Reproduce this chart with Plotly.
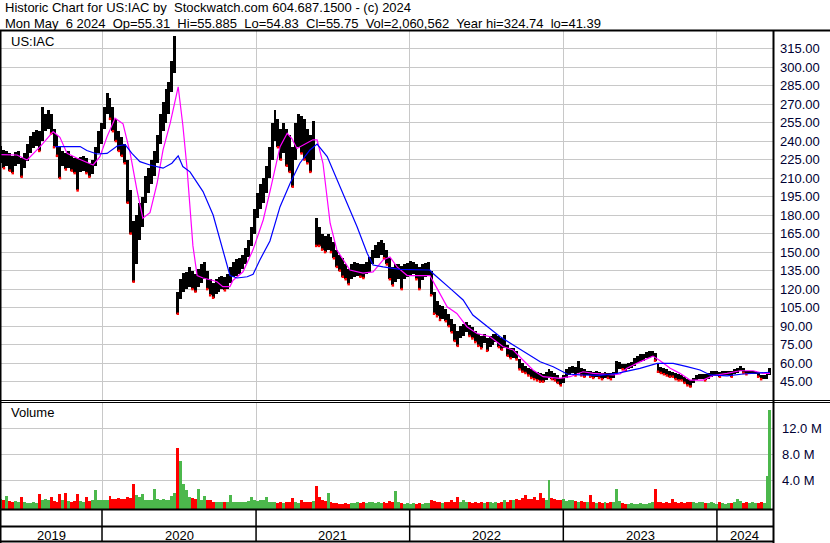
import pandas as pd
import plotly.graph_objects as go

W, H = 830, 543

# weekly price range (US$), one entry per week starting Monday 2019-05-06
first_week = "2019-05-06"
week_lo = [222, 218, 220, 216, 214, 220, 221, 211, 218, 224,
           230, 234, 236, 232, 240, 248, 250, 246, 235, 228,
           210, 220, 217, 218, 216, 214, 200, 215, 216, 214,
           211, 213, 220, 230, 238, 250, 262, 258, 248, 240,
           232, 228, 222, 190, 165, 126, 140, 160, 170, 190,
           198, 205, 212, 222, 238, 248, 255, 262, 280, 295,
           100, 112, 118, 120, 122, 120, 118, 122, 125, 128,
           120, 115, 113, 116, 118, 120, 119, 120, 125, 130,
           131, 132, 136, 140, 146, 155, 165, 178, 185, 190,
           198, 210, 225, 240, 235, 225, 230, 220, 215, 203,
           225, 235, 230, 225, 222, 215, 225, 155, 155, 152,
           150, 152, 150, 145, 138, 135, 130, 128, 124, 128,
           130, 131, 130, 129, 132, 134, 140, 145, 145, 148,
           145, 140, 128, 123, 126, 128, 120, 128, 130, 131,
           132, 128, 120, 127, 130, 131, 115, 100, 98, 95,
           96, 94, 90, 85, 78, 74, 80, 82, 85, 82,
           80, 77, 74, 72, 76, 70, 73, 75, 77, 73,
           71, 72, 66, 64, 64, 63, 55, 53, 52, 50,
           48, 47, 46, 45, 45, 46, 48, 47, 46, 44,
           42, 44, 48, 50, 52, 50, 52, 50, 49, 50,
           49, 48, 49, 48, 47, 48, 48, 47, 48, 52,
           55, 55, 54, 55, 56, 58, 60, 61, 62, 64,
           64, 65, 62, 53, 52, 51, 50, 49, 49, 47,
           46, 46, 44, 42, 41, 44, 46, 47, 47, 46,
           47, 49, 50, 50, 49, 50, 50, 50, 49, 51,
           52, 54, 52, 51, 51, 51, 51, 49, 47, 47, 47, 50]
week_hi = [236, 233, 232, 230, 228, 231, 232, 226, 230, 238,
           244, 247, 249, 248, 268, 262, 265, 262, 250, 245,
           236, 232, 230, 232, 228, 226, 226, 227, 228, 226,
           222, 225, 235, 248, 255, 268, 279, 275, 268, 258,
           248, 243, 238, 225, 200, 175, 180, 190, 195, 212,
           218, 225, 232, 245, 262, 272, 282, 288, 305, 325,
           118, 128, 133, 134, 138, 135, 132, 136, 140, 142,
           135, 128, 125, 128, 130, 131, 130, 132, 138, 142,
           144, 145, 148, 153, 160, 170, 185, 198, 205, 210,
           220, 235, 255, 265, 258, 250, 255, 250, 245, 235,
           255, 262, 260, 258, 250, 245, 256, 178, 170, 165,
           163, 165, 162, 158, 152, 148, 145, 140, 136, 140,
           142, 141, 140, 140, 142, 146, 152, 156, 158, 160,
           157, 152, 145, 138, 140, 140, 139, 140, 141, 143,
           142, 140, 138, 140, 141, 142, 135, 118, 110, 107,
           106, 104, 100, 96, 92, 86, 90, 92, 93, 91,
           89, 86, 84, 82, 84, 80, 82, 84, 84, 82,
           80, 83, 75, 72, 72, 70, 63, 60, 58, 56,
           55, 54, 53, 52, 51, 53, 55, 54, 52, 50,
           48, 50, 55, 57, 58, 57, 62, 56, 55, 54,
           54, 53, 54, 53, 52, 53, 52, 52, 53, 62,
           61, 59, 59, 60, 61, 64, 66, 67, 67, 69,
           70, 70, 68, 60, 57, 56, 55, 54, 53, 52,
           51, 50, 49, 47, 46, 48, 50, 51, 51, 51,
           52, 54, 54, 54, 53, 54, 54, 54, 54, 55,
           56, 58, 56, 54, 54, 54, 54, 53, 50, 50, 51, 56]
# weekly volume, millions of shares
week_vol = [1.2, 1.0, 1.6, 0.8, 0.7, 0.8, 0.6, 1.5, 0.6, 0.5,
            0.5, 0.6, 0.5, 1.9, 1.0, 1.1, 0.9, 1.4, 0.8, 0.7,
            1.9, 1.0, 2.1, 0.8, 0.7, 0.8, 1.9, 0.8, 0.6, 1.4,
            0.8, 0.9, 2.5, 1.0, 0.9, 1.0, 0.9, 1.6, 1.1, 1.2,
            1.3, 1.2, 1.1, 1.5, 1.3, 3.5, 1.7, 1.5, 1.9, 1.0,
            0.9, 1.0, 2.7, 1.2, 1.0, 1.1, 1.0, 0.9, 1.6, 2.1,
            9.0, 7.0, 3.5, 2.5, 1.4, 1.3, 1.2, 2.6, 1.0, 1.6,
            1.0, 0.9, 0.7, 0.6, 0.7, 0.6, 0.7, 0.6, 1.8, 0.7,
            0.6, 0.7, 0.6, 0.7, 0.8, 1.4, 0.9, 0.8, 1.0, 0.9,
            1.5, 0.6, 0.7, 0.6, 0.5, 0.6, 0.5, 0.6, 0.6, 1.3,
            0.6, 0.5, 1.0, 0.6, 0.6, 0.7, 0.8, 3.2, 1.4, 0.9,
            0.8, 2.0, 0.7, 0.5, 0.5, 0.4, 0.4, 0.5, 0.4, 0.5,
            0.5, 0.6, 0.5, 0.6, 0.5, 0.7, 0.6, 0.5, 0.6, 0.5,
            0.6, 0.5, 0.8, 0.7, 2.4, 0.6, 0.5, 0.4, 0.5, 0.4,
            0.5, 0.4, 0.5, 0.4, 0.5, 0.5, 0.9, 0.8, 0.6, 0.6,
            0.5, 0.6, 0.7, 0.9, 0.6, 1.5, 0.6, 1.0, 0.7, 0.6,
            0.5, 0.6, 0.5, 0.6, 0.5, 0.6, 0.7, 0.5, 0.6, 0.5,
            0.6, 0.9, 0.7, 0.9, 1.0, 1.2, 0.9, 1.3, 1.7, 1.1,
            1.2, 1.4, 1.0, 2.0, 1.3, 1.0, 4.1, 1.3, 1.2, 1.0,
            0.9, 1.1, 0.8, 1.0, 0.9, 0.8, 0.7, 0.8, 0.6, 0.6,
            1.7, 0.6, 0.5, 0.6, 0.5, 0.6, 0.5, 0.6, 0.7, 2.6,
            0.8, 0.5, 0.4, 0.4, 0.5, 0.4, 0.4, 0.5, 0.4, 0.4,
            0.5, 0.6, 2.6, 0.7, 0.6, 0.5, 0.6, 0.5, 1.2, 0.6,
            0.5, 0.6, 0.5, 0.6, 0.7, 0.6, 0.5, 0.6, 0.7, 0.5,
            0.5, 0.6, 0.5, 0.4, 0.6, 0.5, 0.4, 0.5, 0.5, 0.6,
            1.2, 0.8, 0.5, 0.6, 0.5, 0.6, 0.5, 0.5, 0.6, 0.5, 4.7, 14.8]

# moving averages
ma_short_dates = ["2019-05-06", "2019-06-13", "2019-07-07", "2019-08-07", "2019-09-07",
                  "2019-09-23", "2019-10-10", "2019-11-03", "2019-12-11", "2019-12-27",
                  "2020-01-13", "2020-02-01", "2020-02-20", "2020-03-08", "2020-03-24",
                  "2020-04-07", "2020-04-24", "2020-05-11", "2020-05-25", "2020-06-11",
                  "2020-06-30", "2020-07-11", "2020-07-21", "2020-07-28", "2020-08-04",
                  "2020-08-14", "2020-08-28", "2020-09-21", "2020-09-30", "2020-10-14",
                  "2020-10-31", "2020-11-07", "2020-12-01", "2020-12-25", "2021-01-18",
                  "2021-02-03", "2021-02-27", "2021-03-16", "2021-03-27", "2021-04-08",
                  "2021-04-23", "2021-05-16", "2021-05-26", "2021-06-09", "2021-06-26",
                  "2021-07-12", "2021-08-12", "2021-09-12", "2021-10-06", "2021-10-30",
                  "2021-11-15", "2021-12-02", "2021-12-26", "2022-02-18", "2022-03-07",
                  "2022-03-31", "2022-04-23", "2022-05-17", "2022-06-10", "2022-07-11",
                  "2022-08-11", "2022-09-04", "2022-09-27", "2022-10-21", "2022-11-14",
                  "2022-12-24", "2023-01-17", "2023-02-17", "2023-03-13", "2023-04-29",
                  "2023-05-16", "2023-06-01", "2023-07-02", "2023-08-02", "2023-08-19",
                  "2023-09-12", "2023-10-05", "2023-10-29", "2023-11-29", "2023-12-23",
                  "2024-01-25", "2024-02-25", "2024-03-27", "2024-04-20", "2024-05-06"]
ma_short = [229, 228.7, 224.7, 235.5, 247.6, 243, 230, 226, 220.6, 227.4,
            243.6, 258.5, 254, 230, 200.3, 177.4, 182, 205.8, 232.8, 254.5,
            284, 253, 218, 184, 155, 131, 129, 127, 126, 122,
            122, 127, 134, 152, 176, 199, 235.5, 246.3, 242, 234,
            237, 241, 241, 222, 173.4, 151.7, 135.5, 133, 134, 143.6,
            146, 138, 131, 131, 120.6, 105.7, 100.3, 89.5, 84, 81.4,
            73.3, 70.6, 62.5, 54.4, 49, 47.6, 49, 53, 51.7, 50.4,
            51.2, 55.8, 61, 65.7, 62, 55.8, 51.7, 46.3, 46.3, 50,
            51.7, 53.8, 53.8, 51.7, 51.7]

ma_long_dates = ["2019-09-11", "2019-11-10", "2019-11-26", "2019-12-20", "2020-01-13",
                 "2020-02-06", "2020-02-25", "2020-03-12", "2020-03-31", "2020-04-24",
                 "2020-05-25", "2020-06-15", "2020-06-30", "2020-07-11", "2020-07-28",
                 "2020-08-28", "2020-09-21", "2020-10-07", "2020-10-24", "2020-10-31",
                 "2020-11-17", "2020-12-11", "2020-12-25", "2021-01-10", "2021-02-03",
                 "2021-02-27", "2021-03-23", "2021-04-15", "2021-05-09", "2021-05-26",
                 "2021-06-19", "2021-07-12", "2021-08-05", "2021-08-29", "2021-09-22",
                 "2021-10-06", "2021-10-30", "2021-12-09", "2022-02-18", "2022-02-25",
                 "2022-04-07", "2022-05-08", "2022-05-31", "2022-07-04", "2022-08-04",
                 "2022-09-04", "2022-10-07", "2022-11-07", "2022-12-08", "2023-01-10",
                 "2023-02-10", "2023-03-29", "2023-05-09", "2023-07-02", "2023-08-12",
                 "2023-09-19", "2023-10-22", "2023-11-22", "2023-12-16", "2024-01-25",
                 "2024-03-03", "2024-04-12", "2024-05-06"]
ma_long = [235.5, 235.5, 232.3, 229.5, 230, 236, 237, 230, 223.3, 220.6,
           218, 222, 228, 219.3, 215, 199, 180, 160, 141, 131,
           129, 130, 132, 143.6, 159, 186.8, 205.8, 222, 232.8, 237.6,
           227.4, 208.5, 189.6, 170.6, 149, 139.5, 138, 136, 135.5, 132.8,
           120.6, 111.2, 99, 89.5, 81.4, 74.7, 68, 61.1, 57.1, 51.2,
           50.4, 50, 51.7, 55.8, 59.8, 59.8, 57.1, 54.4, 50.4, 49.6,
           51.2, 52.3, 52.6]

price_ticks = [45, 60, 75, 90, 105, 120, 135, 150, 165, 180, 195, 210, 225, 240, 255, 270, 285, 300, 315]
vol_ticks = [4, 8, 12]
years = [2019, 2020, 2021, 2022, 2023, 2024]

header1 = "Historic Chart for US:IAC by\u00a0 Stockwatch.com 604.687.1500 - (c) 2024"
header2 = ("Mon May\u00a0 6 2024\u00a0 Op=55.31\u00a0 Hi=55.885\u00a0 Lo=54.83\u00a0 Cl=55.75"
           "\u00a0 Vol=2,060,562\u00a0 Year hi=324.74\u00a0 lo=41.39")

FONT = "Liberation Sans, Arial, sans-serif"
GRID = "#c8c8c8"
LABEL = "#000033"


def px(x):
    return x / W


def py(y):
    return 1 - y / H


weeks = pd.date_range(first_week, periods=len(week_lo), freq="7D")
x_start = pd.Timestamp("2019-05-06")
x_end = pd.Timestamp("2024-05-13 05:00")
week_ms = 7 * 86400000

mids = [(a + b) / 2 for a, b in zip(week_lo, week_hi)]
down = [i > 0 and mids[i] < mids[i - 1] for i in range(len(mids))]
vol_colors = ["#ff0000" if d else "#4cb84c" for d in down]

vol_floor = -0.415

fig = go.Figure()

fig.add_trace(go.Bar(x=weeks, y=[h - l for l, h in zip(week_lo, week_hi)], base=week_lo,
                     width=week_ms, marker=dict(color="black", line_width=0),
                     xaxis="x", yaxis="y", hoverinfo="skip"))
fig.add_trace(go.Scatter(x=[w for w, d in zip(weeks, down) if d],
                         y=[l for l, d in zip(week_lo, down) if d],
                         mode="markers", marker=dict(color="red", size=2.5, symbol="square"),
                         xaxis="x", yaxis="y", hoverinfo="skip"))
fig.add_trace(go.Scatter(x=ma_short_dates, y=ma_short, mode="lines",
                         line=dict(color="#ff00ff", width=1.2), xaxis="x", yaxis="y"))
fig.add_trace(go.Scatter(x=ma_long_dates, y=ma_long, mode="lines",
                         line=dict(color="#0000ff", width=1.2), xaxis="x", yaxis="y"))
fig.add_trace(go.Bar(x=weeks, y=[v - vol_floor for v in week_vol], base=vol_floor,
                     width=week_ms, marker=dict(color=vol_colors, line_width=0),
                     xaxis="x2", yaxis="y2", hoverinfo="skip"))

year_starts = [pd.Timestamp(f"{y}-01-01") for y in years[1:]]
xcommon = dict(range=[x_start, x_end], domain=[px(1), px(773)], showticklabels=False,
               tickvals=year_starts, ticks="", showgrid=True, gridcolor=GRID, gridwidth=1,
               zeroline=False, showline=False, fixedrange=True)

fig.update_layout(
    width=W, height=H,
    margin=dict(l=0, r=0, t=0, b=0, pad=0),
    paper_bgcolor="white", plot_bgcolor="white",
    showlegend=False, bargap=0,
    font=dict(family=FONT, size=13, color="black"),
    xaxis=dict(anchor="y", **xcommon),
    xaxis2=dict(anchor="y2", matches="x", **xcommon),
    yaxis=dict(domain=[py(401), py(31)], range=[29.3, 329.2], side="right", anchor="x",
               tickvals=price_ticks, ticktext=[f"{v:.2f}" for v in price_ticks],
               ticks="", ticklabelstandoff=6, tickfont=dict(size=13, color=LABEL),
               showgrid=True, gridcolor=GRID, zeroline=False, fixedrange=True),
    yaxis2=dict(domain=[py(509), py(403)], range=[vol_floor, 15.89], side="right", anchor="x2",
                tickvals=vol_ticks, ticktext=[f"{v:.1f} M" for v in vol_ticks],
                ticks="", ticklabelstandoff=8, tickfont=dict(size=13, color=LABEL),
                showgrid=True, gridcolor=GRID, zeroline=False, fixedrange=True),
)

shapes = []


def hline(y, x0, x1, w=2):
    shapes.append(dict(type="line", xref="paper", yref="paper", x0=px(x0), x1=px(x1),
                       y0=py(y), y1=py(y), line=dict(color="black", width=w)))


def vline(x, y0, y1, w=2):
    shapes.append(dict(type="line", xref="paper", yref="paper", x0=px(x), x1=px(x),
                       y0=py(y0), y1=py(y1), line=dict(color="black", width=w)))


hline(30.5, 0, W)
hline(400.5, 0, W, 1)
hline(402.5, 0, W, 1)
hline(509.5, 0, 774)
hline(526.5, 0, 774)
hline(541.5, 0, 774)
vline(0.5, 30, 543)
vline(773.5, 30, 543)
for ys in year_starts:
    shapes.append(dict(type="line", xref="x", yref="paper", x0=ys, x1=ys,
                       y0=py(509), y1=py(542), line=dict(color="black", width=1.5)))

annotations = [
    dict(text=header1, x=px(3), y=py(8)),
    dict(text=header2, x=px(3), y=py(23)),
    dict(text="US:IAC", x=px(9), y=py(41)),
    dict(text="Volume", x=px(9), y=py(413)),
]
for a in annotations:
    a.update(xref="paper", yref="paper", xanchor="left", yanchor="middle", showarrow=False,
             font=dict(size=13, color="black"))

bounds = [x_start] + year_starts + [pd.Timestamp("2024-05-13")]
for i, y in enumerate(years):
    mid = bounds[i] + (bounds[i + 1] - bounds[i]) / 2
    annotations.append(dict(text=str(y), xref="x", yref="paper", x=mid, y=py(535),
                            xanchor="center", yanchor="middle", showarrow=False,
                            font=dict(size=13, color="black")))

fig.update_layout(shapes=shapes, annotations=annotations)

# drop the default page margin so the chart sits at the window's top-left corner
fig.write_html("out.html", config={"displayModeBar": False},
               post_script="document.body.style.margin='0';")
